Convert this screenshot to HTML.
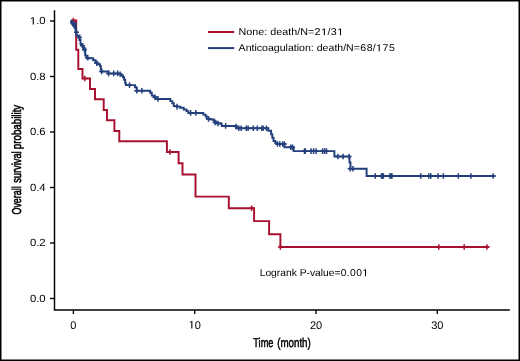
<!DOCTYPE html>
<html><head><meta charset="utf-8"><style>
html,body{margin:0;padding:0;background:#fff;}
body{width:520px;height:361px;overflow:hidden;}
svg{display:block;will-change:transform;}
text{font-family:"Liberation Sans",sans-serif;text-rendering:geometricPrecision;}
</style></head><body>
<svg width="520" height="361" viewBox="0 0 520 361">
<rect x="0" y="0" width="520" height="361" fill="#fff"/>
<rect x="0.75" y="0.75" width="518.5" height="359.5" fill="none" stroke="#000" stroke-width="1.5"/>
<g stroke="#000" stroke-width="1.45" fill="none">
<path d="M54.5,10.2 V309.9 H509.8"/>
</g>
<g stroke="#000" stroke-width="1.35"><line x1="50" y1="21.0" x2="54.5" y2="21.0"/><line x1="50" y1="76.5" x2="54.5" y2="76.5"/><line x1="50" y1="132.0" x2="54.5" y2="132.0"/><line x1="50" y1="187.5" x2="54.5" y2="187.5"/><line x1="50" y1="243.0" x2="54.5" y2="243.0"/><line x1="50" y1="298.5" x2="54.5" y2="298.5"/><line x1="73.4" y1="309.9" x2="73.4" y2="314"/><line x1="194.7" y1="309.9" x2="194.7" y2="314"/><line x1="316.0" y1="309.9" x2="316.0" y2="314"/><line x1="437.3" y1="309.9" x2="437.3" y2="314"/></g>
<g font-size="10.5" fill="#000"><path transform="translate(29.90,24.40) scale(0.005550,-0.005127)" d="M505,0 L505,1237 L187,1010 L187,1180 L520,1409 L706,1409 L706,0 Z" stroke="none"/><text x="36.22" y="24.4" textLength="9.48" lengthAdjust="spacingAndGlyphs">.0</text><text x="45.7" y="79.9" text-anchor="end" textLength="15.8" lengthAdjust="spacingAndGlyphs">0.8</text><text x="45.7" y="135.4" text-anchor="end" textLength="15.8" lengthAdjust="spacingAndGlyphs">0.6</text><text x="45.7" y="190.9" text-anchor="end" textLength="15.8" lengthAdjust="spacingAndGlyphs">0.4</text><text x="45.7" y="246.4" text-anchor="end" textLength="15.8" lengthAdjust="spacingAndGlyphs">0.2</text><text x="45.7" y="301.9" text-anchor="end" textLength="15.8" lengthAdjust="spacingAndGlyphs">0.0</text><text x="73.4" y="328.5" text-anchor="middle" font-size="11">0</text><path transform="translate(188.58,328.50) scale(0.005371,-0.005371)" d="M505,0 L505,1237 L187,1010 L187,1180 L520,1409 L706,1409 L706,0 Z" stroke="none"/><text x="194.7" y="328.5" font-size="11">0</text><text x="316.0" y="328.5" text-anchor="middle" font-size="11">20</text><text x="437.3" y="328.5" text-anchor="middle" font-size="11">30</text></g>
<g font-size="12.9" stroke="#000" stroke-width="0.5"><text x="253.3" y="347.1" textLength="20.2" lengthAdjust="spacingAndGlyphs">Time</text><text x="277.2" y="347.1" textLength="33.6" lengthAdjust="spacingAndGlyphs">(month)</text></g>
<g transform="translate(20.6,0) rotate(-90)" font-size="12.9" stroke="#000" stroke-width="0.6"><text x="-214.6" y="0" textLength="28.4" lengthAdjust="spacingAndGlyphs">Overall</text><text x="-182.8" y="0" textLength="31.4" lengthAdjust="spacingAndGlyphs">survival</text><text x="-149.2" y="0" textLength="44.4" lengthAdjust="spacingAndGlyphs">probability</text></g>
<line x1="208" y1="32" x2="234.2" y2="32" stroke="#A8102F" stroke-width="2"/>
<line x1="208" y1="48.1" x2="234.2" y2="48.1" stroke="#233F7C" stroke-width="2"/>
<g transform="translate(238.6,35.3) scale(1.08695,1)" font-size="9.9"><text x="0.00 7.15 12.66 18.16 23.67 26.42 29.17 34.67 40.18 45.69 48.44 53.94 56.69 63.84 69.90 81.74 84.76" y="0">None: death/N=2/3</text><path transform="translate(75.96,0) scale(0.004834,-0.004834)" d="M505,0 L505,1237 L187,1010 L187,1180 L520,1409 L706,1409 L706,0 Z"/><path transform="translate(90.82,0) scale(0.004834,-0.004834)" d="M505,0 L505,1237 L187,1010 L187,1180 L520,1409 L706,1409 L706,0 Z"/></g>
<g transform="translate(238.6,51.2) scale(1.06756,1)" font-size="9.9"><text x="0.00 6.60 12.11 14.86 17.06 22.01 27.52 33.02 38.53 44.03 46.23 51.74 54.49 56.69 62.19 67.70 70.45 73.20 78.71 84.21 89.72 92.47 97.98 100.73 107.88 113.93 119.99 125.77 134.85 140.91" y="0">Anticoagulation: death/N=68/75</text><path transform="translate(128.80,0) scale(0.004834,-0.004834)" d="M505,0 L505,1237 L187,1010 L187,1180 L520,1409 L706,1409 L706,0 Z"/></g>
<g transform="translate(259.7,276.2) scale(1.02728,1)" font-size="10"><text x="0.00 5.56 11.12 16.68 20.01 25.58 31.14 36.14 38.92 45.59 48.92 53.92 59.48 61.70 67.26 72.82 78.94 84.78 87.84 93.95" y="0">Logrank P-value=0.00</text><path transform="translate(100.07,0) scale(0.004883,-0.004883)" d="M505,0 L505,1237 L187,1010 L187,1180 L520,1409 L706,1409 L706,0 Z"/></g>
<g fill="none" stroke-width="1.95" stroke-linejoin="miter" stroke-linecap="butt">
<path d="M71,20.5 H76.2 V49.8 H78.3 V69 H82.5 V78.5 H90 V89 H95 V99.2 H103.7 V110 H107 V120.2 H114.4 V130.9 H119.3 V141.3 H166.9 V152 H178.6 V163.3 H182.5 V174.5 H195.5 V196.6 H228.8 V208.3 H254.1 V221.1 H269.1 V234.2 H280.4 V247 H489.2" stroke="#A8102F"/>
<g stroke="#A8102F" stroke-width="1.5"><path d="M73.4,17.7V23.3M70.9,20.5H75.9"/><path d="M84.8,75.7V81.3M82.3,78.5H87.3"/><path d="M170,149.2V154.8M167.5,152H172.5"/><path d="M251.6,205.5V211.10000000000002M249.1,208.3H254.1"/><path d="M280.4,244.2V249.8M277.9,247H282.9"/><path d="M438.8,244.2V249.8M436.3,247H441.3"/><path d="M464.2,244.2V249.8M461.7,247H466.7"/><path d="M486.9,244.2V249.8M484.4,247H489.4"/></g>
<path d="M70.5,20.9 H71.5 V21.8 H72.5 V22.8 H73.5 V23.8 H74.5 V25 H75.5 V27 H76 V32.2 H76.5 V35.8 H79.5 V40 H80.5 V44.3 H82.3 V46.5 H83.5 V48.5 H85.2 V55.5 H86.5 V58.3 H93.2 V60.3 H95.5 V62.5 H97.5 V64.3 H100 V66 H100.8 V69.3 H101.4 V71.4 H108.5 V73.4 H119.4 V74.1 H121.2 V75.5 H123 V77.3 H124.1 V79.8 H125.2 V83.1 H125.9 V85.1 H135 V87.2 H136.7 V90.8 H150.2 V92.8 H151.8 V95.6 H153.8 V97.2 H156 V98.9 H170.3 V101.1 H172.3 V103.3 H173.8 V106.1 H177.3 V106.6 H180.2 V107.7 H183.7 V109.4 H186.5 V111.1 H188.3 V112.9 H203.3 V114.6 H205.6 V116.3 H206.7 V118.6 H209.6 V119.2 H212.5 V119.8 H214.2 V121.5 H216 V123.3 H220.6 V123.8 H221.7 V125.9 H236.5 V128.2 H268.3 V130.8 H271.1 V134.2 H272.3 V137.7 H273.5 V141 H275.2 V142.7 H276.9 V144 H284.4 V147.3 H293.6 V151.1 H334.4 V156.5 H349.5 V162.5 H350.5 V168.8 H366.6 V176.0 H495.4" stroke="#233F7C"/>
<path d="M70.2,21.1 L72,21.1 L76.3,22.6 L76.3,28 L76,31 L74.8,31 L74.2,28.8 L72.2,26 L70.3,23.5 Z" fill="#233F7C" stroke="none"/>
<g stroke="#233F7C" stroke-width="1.5"><path d="M76.5,29.400000000000002V35.0M74.0,32.2H79.0"/><path d="M79.5,34.7V40.3M77.0,37.5H82.0"/><path d="M82.6,43.0V48.599999999999994M80.1,45.8H85.1"/><path d="M84.4,47.0V52.599999999999994M81.9,49.8H86.9"/><path d="M87.8,54.900000000000006V60.5M85.3,57.7H90.3"/><path d="M96.8,60.400000000000006V66.0M94.3,63.2H99.3"/><path d="M101.6,68.60000000000001V74.2M99.1,71.4H104.1"/><path d="M108.5,70.60000000000001V76.2M106.0,73.4H111.0"/><path d="M113.7,70.60000000000001V76.2M111.2,73.4H116.2"/><path d="M117.6,70.60000000000001V76.2M115.1,73.4H120.1"/><path d="M120.2,71.5V77.1M117.7,74.3H122.7"/><path d="M129.5,82.3V87.89999999999999M127.0,85.1H132.0"/><path d="M136.7,88.0V93.6M134.2,90.8H139.2"/><path d="M141.9,88.0V93.6M139.4,90.8H144.4"/><path d="M155,94.4V100.0M152.5,97.2H157.5"/><path d="M158,96.10000000000001V101.7M155.5,98.9H160.5"/><path d="M177,103.8V109.39999999999999M174.5,106.6H179.5"/><path d="M190.6,110.10000000000001V115.7M188.1,112.9H193.1"/><path d="M195.8,110.10000000000001V115.7M193.3,112.9H198.3"/><path d="M208.5,116.10000000000001V121.7M206.0,118.9H211.0"/><path d="M215,119.7V125.3M212.5,122.5H217.5"/><path d="M218,120.7V126.3M215.5,123.5H220.5"/><path d="M225.6,123.10000000000001V128.70000000000002M223.1,125.9H228.1"/><path d="M236,123.7V129.3M233.5,126.5H238.5"/><path d="M238.8,125.39999999999999V131.0M236.3,128.2H241.3"/><path d="M241.1,125.39999999999999V131.0M238.6,128.2H243.6"/><path d="M246.3,125.39999999999999V131.0M243.8,128.2H248.8"/><path d="M248.1,125.39999999999999V131.0M245.6,128.2H250.6"/><path d="M253.3,125.39999999999999V131.0M250.8,128.2H255.8"/><path d="M257.3,125.39999999999999V131.0M254.8,128.2H259.8"/><path d="M261.9,125.39999999999999V131.0M259.4,128.2H264.4"/><path d="M263.1,125.39999999999999V131.0M260.6,128.2H265.6"/><path d="M266.5,125.39999999999999V131.0M264.0,128.2H269.0"/><path d="M277.5,141.2V146.8M275.0,144H280.0"/><path d="M279.8,141.2V146.8M277.3,144H282.3"/><path d="M282.7,141.2V146.8M280.2,144H285.2"/><path d="M284.4,141.2V146.8M281.9,144H286.9"/><path d="M290.8,144.5V150.10000000000002M288.3,147.3H293.3"/><path d="M292.5,144.5V150.10000000000002M290.0,147.3H295.0"/><path d="M304.5,148.29999999999998V153.9M302.0,151.1H307.0"/><path d="M305.3,148.29999999999998V153.9M302.8,151.1H307.8"/><path d="M311,148.29999999999998V153.9M308.5,151.1H313.5"/><path d="M313.6,148.29999999999998V153.9M311.1,151.1H316.1"/><path d="M316.1,148.29999999999998V153.9M313.6,151.1H318.6"/><path d="M322.6,148.29999999999998V153.9M320.1,151.1H325.1"/><path d="M324.6,148.29999999999998V153.9M322.1,151.1H327.1"/><path d="M326.5,148.29999999999998V153.9M324.0,151.1H329.0"/><path d="M337.9,153.7V159.3M335.4,156.5H340.4"/><path d="M343.1,153.7V159.3M340.6,156.5H345.6"/><path d="M349.1,153.7V159.3M346.6,156.5H351.6"/><path d="M350.2,166.0V171.60000000000002M347.7,168.8H352.7"/><path d="M352.9,166.0V171.60000000000002M350.4,168.8H355.4"/><path d="M375.2,173.2V178.8M372.7,176.0H377.7"/><path d="M381.5,173.2V178.8M379.0,176.0H384.0"/><path d="M382.45,173.2V178.8M379.95,176.0H384.95"/><path d="M383.4,173.2V178.8M380.9,176.0H385.9"/><path d="M389.85,173.2V178.8M387.35,176.0H392.35"/><path d="M390.9,173.2V178.8M388.4,176.0H393.4"/><path d="M391.95,173.2V178.8M389.45,176.0H394.45"/><path d="M420.8,173.2V178.8M418.3,176.0H423.3"/><path d="M428.8,173.2V178.8M426.3,176.0H431.3"/><path d="M430.8,173.2V178.8M428.3,176.0H433.3"/><path d="M438,173.2V178.8M435.5,176.0H440.5"/><path d="M443.4,173.2V178.8M440.9,176.0H445.9"/><path d="M458.3,173.2V178.8M455.8,176.0H460.8"/><path d="M470.9,173.2V178.8M468.4,176.0H473.4"/><path d="M493.1,173.2V178.8M490.6,176.0H495.6"/></g>
</g>
</svg>
</body></html>
